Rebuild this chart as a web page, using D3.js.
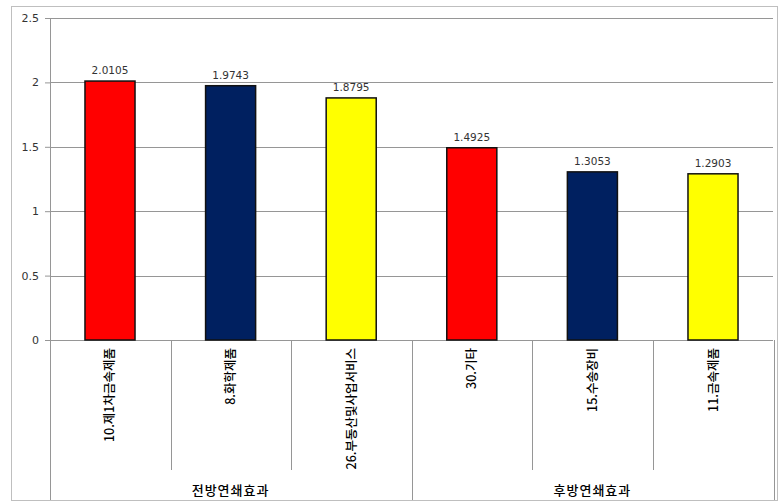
<!DOCTYPE html>
<html>
<head>
<meta charset="utf-8">
<script src="https://cdn.jsdelivr.net/npm/d3@7"></script>
<style>
  body { margin: 0; background: #fff; }
  text { font-family: "Noto Sans CJK KR", "Noto Sans", sans-serif; }
</style>
</head>
<body>
<div id="chart"></div>
<script>
// data
var categories = ["10.제1차금속제품", "8.화학제품", "26.부동산및사업서비스", "30.기타", "15.수송장비", "11.금속제품"];
var values = [2.0105, 1.9743, 1.8795, 1.4925, 1.3053, 1.2903];
var groups = ["전방연쇄효과", "후방연쇄효과"];
var groupOf = [0, 0, 0, 1, 1, 1];
var colors = ["#ff0000", "#002060", "#ffff00", "#ff0000", "#002060", "#ffff00"];
var yTicks = [0, 0.5, 1, 1.5, 2, 2.5];

var W = 780, H = 502;
var margin = { top: 18, right: 7, bottom: 162, left: 50 },
    width = W - margin.left - margin.right,
    height = H - margin.top - margin.bottom;

var svg = d3.select("#chart")
    .append("svg")
    .attr("width", W)
    .attr("height", H);

// outer chart border
svg.append("rect")
    .attr("x", 11.5).attr("y", 6.5)
    .attr("width", 766).attr("height", 494)
    .attr("fill", "none")
    .attr("stroke", "#bfbfbf");

var g = svg.append("g")
    .attr("transform", "translate(" + margin.left + "," + margin.top + ")");

var x = d3.scaleBand()
    .domain(categories)
    .range([0, width])
    .paddingInner(0.585)
    .paddingOuter(0.29);

var y = d3.scaleLinear()
    .domain([0, 2.5])
    .range([height, 0]);

// gridlines
g.selectAll(".grid")
    .data(yTicks)
    .enter()
    .append("line")
    .attr("x1", 0).attr("x2", width)
    .attr("y1", function(d) { return Math.round(y(d)) + 0.5; })
    .attr("y2", function(d) { return Math.round(y(d)) + 0.5; })
    .attr("stroke", "#969696")
    .attr("stroke-width", 1);

// y axis
var yAxis = g.append("g")
    .call(d3.axisLeft(y).tickValues(yTicks).tickSize(5).tickPadding(6).tickFormat(d3.format("")));
yAxis.select(".domain").attr("stroke", "#969696");
yAxis.selectAll(".tick line").attr("stroke", "#969696");
yAxis.selectAll("text")
    .attr("font-size", 11)
    .attr("fill", "#333")
    .style("font-family", "'DejaVu Sans', sans-serif");

// bars
g.selectAll(".bar")
    .data(values)
    .enter()
    .append("rect")
    .attr("x", function(d, i) { return x(categories[i]); })
    .attr("y", function(d) { return y(d); })
    .attr("width", x.bandwidth())
    .attr("height", function(d) { return height - y(d); })
    .attr("fill", function(d, i) { return colors[i]; })
    .attr("stroke", "#111")
    .attr("stroke-width", 1.5);

// value labels
g.selectAll(".val")
    .data(values)
    .enter()
    .append("text")
    .attr("x", function(d, i) { return x(categories[i]) + x.bandwidth() / 2; })
    .attr("y", function(d) { return y(d) - 7; })
    .attr("text-anchor", "middle")
    .attr("font-size", 10.5)
    .attr("fill", "#333")
    .style("font-family", "'DejaVu Sans', sans-serif")
    .text(function(d) { return d; });

// category separators (short) and group separators (long)
var step = x.step();
var sepX = d3.range(categories.length + 1).map(function(i) { return i * step; });
g.selectAll(".sep")
    .data(sepX)
    .enter()
    .append("line")
    .attr("x1", function(d) { return Math.round(d) + 0.5; })
    .attr("x2", function(d) { return Math.round(d) + 0.5; })
    .attr("y1", height)
    .attr("y2", function(d, i) { return (i % 3 === 0) ? height + 160 : height + 130; })
    .attr("stroke", "#969696");

// category labels, rotated
g.selectAll(".cat")
    .data(categories)
    .enter()
    .append("text")
    .attr("transform", function(d) {
        return "translate(" + (x(d) + x.bandwidth() / 2 + 4.5) + "," + (height + 8) + ") rotate(-90)";
    })
    .attr("text-anchor", "end")
    .attr("font-size", 12.5)
    .attr("font-weight", 500)
    .attr("fill", "#000")
    .text(function(d) { return d; });

// group labels
g.selectAll(".grp")
    .data(groups)
    .enter()
    .append("text")
    .attr("x", function(d, i) {
        var idx = categories.filter(function(c, j) { return groupOf[j] === i; });
        return (x(idx[0]) - x.step() * x.paddingInner() / 2 + x(idx[idx.length - 1]) + x.bandwidth() + x.step() * x.paddingInner() / 2) / 2;
    })
    .attr("y", height + 155)
    .attr("text-anchor", "middle")
    .attr("font-size", 13)
    .attr("font-weight", 500)
    .attr("letter-spacing", 1)
    .attr("fill", "#000")
    .text(function(d) { return d; });
</script>
</body>
</html>
